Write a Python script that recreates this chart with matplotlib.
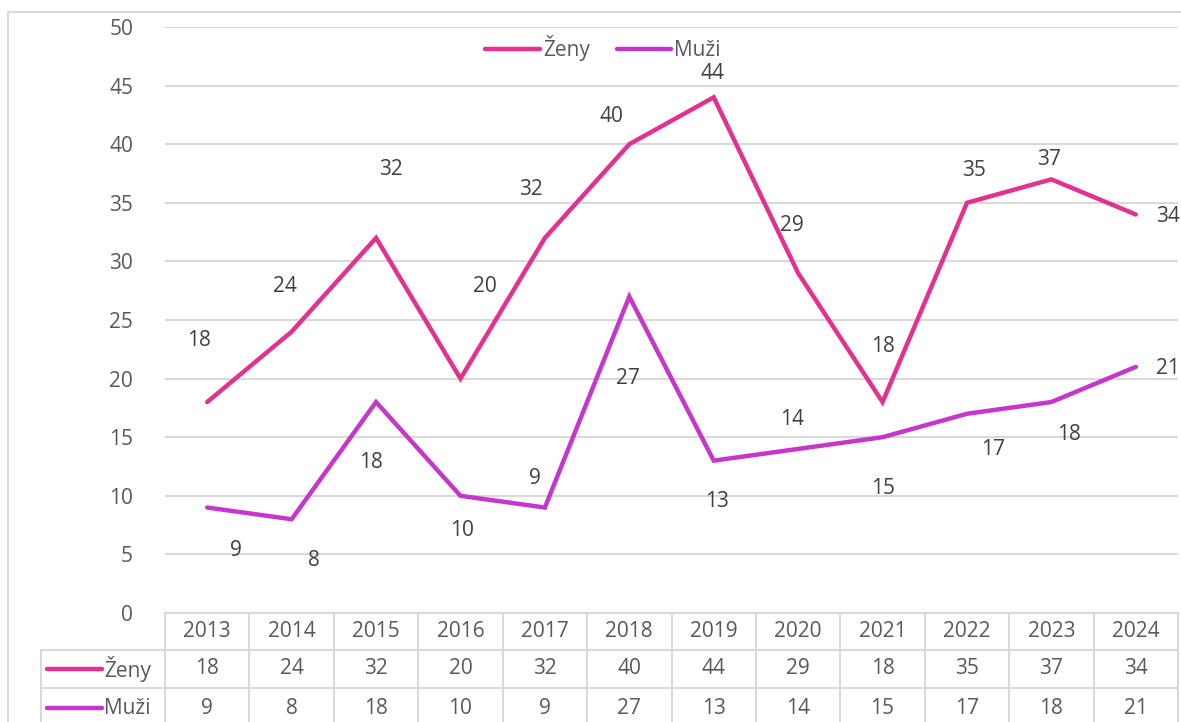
import matplotlib.pyplot as plt
from matplotlib.patches import Rectangle
from matplotlib.lines import Line2D
import matplotlib.transforms as mtransforms

plt.rcParams['font.family'] = ['Open Sans', 'DejaVu Sans']

# data
years = ['2013', '2014', '2015', '2016', '2017', '2018', '2019', '2020', '2021', '2022', '2023', '2024']
zeny = [18, 24, 32, 20, 32, 40, 44, 29, 18, 35, 37, 34]
muzi = [9, 8, 18, 10, 9, 27, 13, 14, 15, 17, 18, 21]

# label offsets in pixels (dx, dy, y down) as Excel placed them
zeny_off = [(-8, -62), (-7, -45), (15, -68), (24, -92), (-14, -48), (-18, -28),
            (-1, -24), (-6, -48), (0, -56), (7, -32), (-2, -20), (32, 2)]
muzi_off = [(29, 43), (22, 41), (-5, 60), (2, 35), (-10, -29), (-1, 82),
            (3, 41), (-6, -29), (1, 51), (26, 36), (18, 32), (32, 2)]

C_Z = '#E3318F'
C_M = '#C636C9'
TXT = '#595959'
GRID = '#D9D9D9'
FS = 15

W, H = 1181, 722
fig = plt.figure(figsize=(W / 100, H / 100), dpi=100)

# outer chart border
fig.patches.append(Rectangle((8 / W, -0.1), 1.2, 1 - 12 / H + 0.1, transform=fig.transFigure,
                             fill=False, edgecolor=GRID, linewidth=1.5))

left, right, top, bottom = 165, 1178, 27, 613
ax = fig.add_axes([left / W, 1 - bottom / H, (right - left) / W, (bottom - top) / H])
x = list(range(len(years)))

ax.plot(x, zeny, color=C_Z, lw=3.2, solid_capstyle='round', solid_joinstyle='miter', label='Ženy', zorder=3)
ax.plot(x, muzi, color=C_M, lw=3.2, solid_capstyle='round', solid_joinstyle='miter', label='Muži', zorder=3)

for xi, v, (dx, dy) in zip(x, zeny, zeny_off):
    ax.annotate(str(v), (xi, v), xytext=(dx * 0.72, -dy * 0.72), textcoords='offset points',
                ha='center', va='center', fontsize=FS, color='#404040', annotation_clip=False)
for xi, v, (dx, dy) in zip(x, muzi, muzi_off):
    ax.annotate(str(v), (xi, v), xytext=(dx * 0.72, -dy * 0.72), textcoords='offset points',
                ha='center', va='center', fontsize=FS, color='#404040', annotation_clip=False)

ax.set_xlim(-0.5, 11.5)
ax.set_ylim(0, 50)
ax.set_yticks(range(0, 51, 5))
ax.set_xticks([])
ax.tick_params(axis='y', length=0, pad=23, labelsize=FS, labelcolor=TXT)
for s in ax.spines.values():
    s.set_visible(False)
ax.grid(axis='y', color=GRID, lw=1.5)
ax.set_axisbelow(True)

# data table below the plot
col_w = (right - left) / 12
plot_h = bottom - top
trans = mtransforms.blended_transform_factory(ax.transData, ax.transAxes)
rows_y = [0, -37 / plot_h, -75 / plot_h, -115 / plot_h]
x_left = -0.5 - (left - 41) / col_w

def ln(xs, ys):
    ax.add_line(Line2D(xs, ys, transform=trans, color=GRID, lw=1.5, clip_on=False))

ln([-0.5, 11.5], [rows_y[0], rows_y[0]])
ln([x_left, 11.5], [rows_y[1], rows_y[1]])
ln([x_left, 11.5], [rows_y[2], rows_y[2]])
for k in range(13):
    ln([k - 0.5, k - 0.5], [rows_y[0], rows_y[3]])
ln([x_left, x_left], [rows_y[1], rows_y[3]])

for i, yr in enumerate(years):
    ax.text(i, (rows_y[0] + rows_y[1]) / 2, yr, transform=trans, ha='center', va='center',
            fontsize=FS, color=TXT)
    ax.text(i, (rows_y[1] + rows_y[2]) / 2, str(zeny[i]), transform=trans, ha='center', va='center',
            fontsize=FS, color=TXT)
    ax.text(i, (rows_y[2] + rows_y[3]) / 2, str(muzi[i]), transform=trans, ha='center', va='center',
            fontsize=FS, color=TXT)

# legend keys in the table rows
for name, c, r in [('Ženy', C_Z, 1), ('Muži', C_M, 2)]:
    yy = 1 - (((rows_y[r] + rows_y[r + 1]) / 2) * plot_h * -1 + bottom) / H
    fig.add_artist(Line2D([47 / W, 102 / W], [yy, yy], transform=fig.transFigure,
                          color=c, lw=3.2, solid_capstyle='round'))
    fig.text(104 / W, yy, name, ha='left', va='center', fontsize=FS, color=TXT)

# top legend
fig.legend(loc='center', bbox_to_anchor=(603 / W, 1 - 48 / H), ncol=2, frameon=False,
           fontsize=FS, handlelength=2.6, handletextpad=0.15, columnspacing=1.3,
           labelcolor=TXT)

fig.savefig('out.png', dpi=100)
